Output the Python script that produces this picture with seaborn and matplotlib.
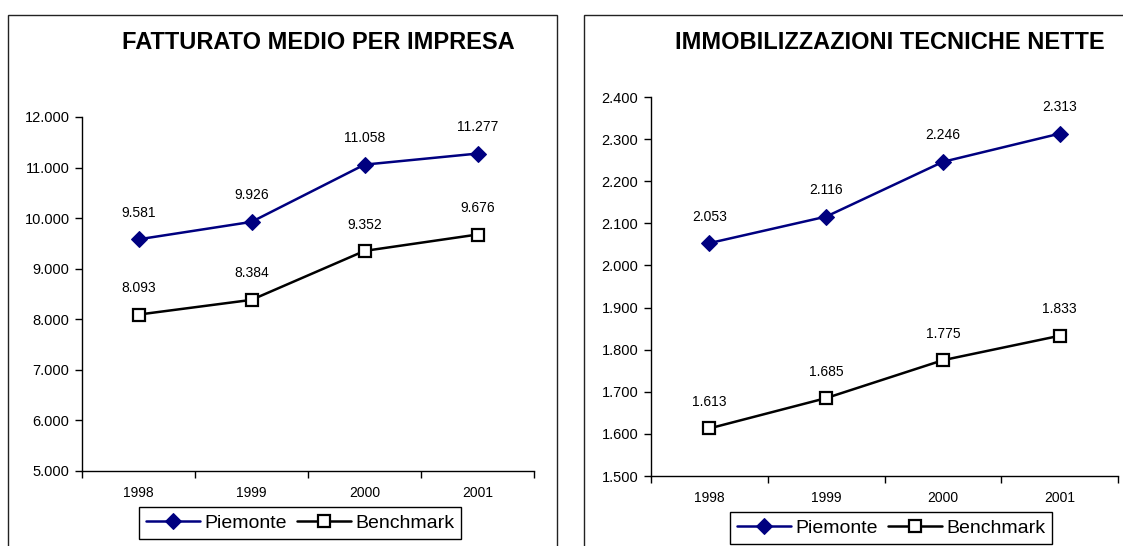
import numpy as np
import pandas as pd
import seaborn as sns
import matplotlib
matplotlib.use("Agg")
import matplotlib.pyplot as plt
from matplotlib.patches import Rectangle
from matplotlib.ticker import FuncFormatter, FixedLocator, MultipleLocator

years = ["1998", "1999", "2000", "2001"]
series_names = ["Piemonte", "Benchmark"]

titles = ["FATTURATO MEDIO PER IMPRESA", "IMMOBILIZZAZIONI TECNICHE NETTE"]

fatt_piemonte = [9581, 9926, 11058, 11277]
fatt_benchmark = [8093, 8384, 9352, 9676]
imm_piemonte = [2053, 2116, 2246, 2313]
imm_benchmark = [1613, 1685, 1775, 1833]

fatt_ylim = (5000, 12000)
fatt_step = 1000
imm_ylim = (1500, 2400)
imm_step = 100

sns.set_style("white")
plt.rcParams['font.family'] = ['Liberation Sans', 'DejaVu Sans']
plt.rcParams['text.color'] = 'black'
plt.rcParams['xtick.color'] = 'black'
plt.rcParams['ytick.color'] = 'black'

W, H = 1123, 546
fig = plt.figure(figsize=(W / 100, H / 100), dpi=100)

def fx(px):
    return px / W

def fy(py):
    return 1 - py / H

# panel borders
fig.patches.append(Rectangle((fx(8), fy(560)), fx(557) - fx(8), fy(15) - fy(560),
                             transform=fig.transFigure, fill=False, edgecolor="#222222", lw=1.0))
fig.patches.append(Rectangle((fx(584), fy(560)), fx(1140) - fx(584), fy(15) - fy(560),
                             transform=fig.transFigure, fill=False, edgecolor="#222222", lw=1.0))

fmt = FuncFormatter(lambda v, p: f"{v:,.0f}".replace(",", "."))

panels = [
    dict(rect=[fx(82), fy(471), fx(534) - fx(82), fy(117) - fy(471)],
         p=fatt_piemonte, b=fatt_benchmark, ylim=fatt_ylim, step=fatt_step,
         title=titles[0], title_xy=(318, 43), leg_center=300, leg_bottom=539),
    dict(rect=[fx(651), fy(476), fx(1118) - fx(651), fy(97) - fy(476)],
         p=imm_piemonte, b=imm_benchmark, ylim=imm_ylim, step=imm_step,
         title=titles[1], title_xy=(890, 43), leg_center=891, leg_bottom=544),
]

for pn in panels:
    ax = fig.add_axes(pn["rect"])
    df = pd.DataFrame({"x": np.arange(len(years)), "Piemonte": pn["p"], "Benchmark": pn["b"]})
    sns.lineplot(data=df, x="x", y="Piemonte", ax=ax, color="#000080", lw=1.8,
                 marker="D", markersize=8, markerfacecolor="#000080",
                 markeredgecolor="#000080", label="Piemonte", legend=False)
    sns.lineplot(data=df, x="x", y="Benchmark", ax=ax, color="black", lw=1.8,
                 marker="s", markersize=9, markerfacecolor="white",
                 markeredgecolor="black", markeredgewidth=1.6, label="Benchmark", legend=False)
    for col in series_names:
        for xi, v in zip(df["x"], df[col]):
            ax.annotate(f"{v:,.0f}".replace(",", "."), (xi, v), xytext=(0, 19),
                        textcoords="offset points", ha="center", va="center", fontsize=10)
    ax.set_xlim(-0.5, len(years) - 0.5)
    ax.set_ylim(*pn["ylim"])
    ax.yaxis.set_major_locator(MultipleLocator(pn["step"]))
    ax.yaxis.set_major_formatter(fmt)
    ax.xaxis.set_major_locator(FixedLocator(np.arange(-0.5, len(years), 1.0)))
    ax.xaxis.set_major_formatter(FuncFormatter(lambda v, p: ""))
    ax.xaxis.set_minor_locator(FixedLocator(np.arange(len(years))))
    ax.set_xticklabels(years, minor=True)
    ax.tick_params(axis="x", which="major", direction="out", length=5, width=1, color="black")
    ax.tick_params(axis="x", which="minor", length=0, labelsize=10, pad=11)
    ax.tick_params(axis="y", direction="out", length=5, width=1, color="black", labelsize=10.5, pad=4)
    ax.tick_params(left=True, bottom=True, which="major")
    sns.despine(ax=ax)
    for s in ["left", "bottom"]:
        ax.spines[s].set_color("black")
        ax.spines[s].set_linewidth(1.0)
    ax.set_xlabel("")
    ax.set_ylabel("")
    fig.text(fx(pn["title_xy"][0]), fy(pn["title_xy"][1]), pn["title"], ha="center", va="center",
             fontsize=17, fontweight="bold", color="black")
    handles, labels = ax.get_legend_handles_labels()
    leg = fig.legend(handles, labels, loc="lower center", ncol=2,
                     bbox_to_anchor=(fx(pn["leg_center"]), fy(pn["leg_bottom"])),
                     bbox_transform=fig.transFigure, fontsize=14, frameon=True,
                     fancybox=False, edgecolor="black", framealpha=1,
                     handlelength=2.8, handletextpad=0.2, columnspacing=0.5,
                     borderpad=0.37, borderaxespad=0)
    leg.get_frame().set_linewidth(1.0)

fig.savefig("out.png", dpi=100)
